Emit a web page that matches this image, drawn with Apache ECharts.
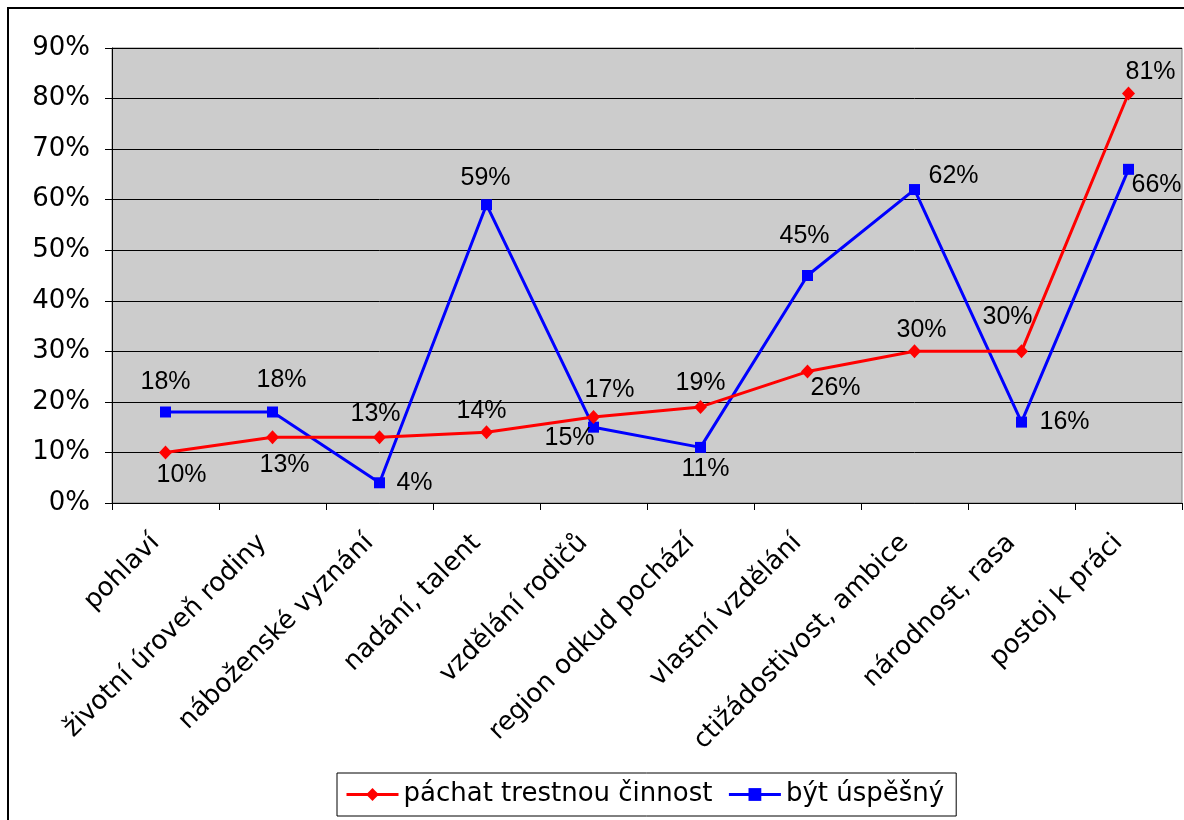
<!DOCTYPE html>
<html>
<head>
<meta charset="utf-8">
<script src="https://cdn.jsdelivr.net/npm/echarts@6/dist/echarts.min.js"></script>
<style>
html,body{margin:0;padding:0;background:#fff;}
#chart{width:1184px;height:820px;}
</style>
</head>
<body>
<div id="chart"></div>
<script>
const categories = ["pohlaví","životní úroveň rodiny","náboženské vyznání","nadání, talent","vzdělání rodičů","region odkud pochází","vlastní vzdělání","ctižádostivost, ambice","národnost, rasa","postoj k práci"];
const seriesNames = ["páchat trestnou činnost","být úspěšný"];
const crimeValues = [10,13,13,14,17,19,26,30,30,81];
const successValues = [18,18,4,59,15,11,45,62,16,66];
const yTicks = {min:0, max:90, interval:10};

// label placement (layout only)
const crimeLabelOffsets = [[16,23],[12,28],[-4,-23],[-5,-21],[16,-27],[0,-24],[28,17],[7,-21],[-14,-34],[22,-21]];
const successLabelOffsets = [[0,-30],[9,-32],[35,0],[-1,-27],[-24,11],[5,22],[-3,-39],[39,-13],[43,0],[28,16]];

function build(values, offs){
  return values.map((v,i)=>({value:v, label:{offset:offs[i]}}));
}

const chart = echarts.init(document.getElementById('chart'), null, {renderer:'canvas'});
const labelStyle = {show:true, position:'inside', formatter:'{c}%', color:'#000', fontFamily:'Liberation Sans', fontSize:25, align:'center', verticalAlign:'middle'};
chart.setOption({
  backgroundColor:'#fff',
  animation:false,
  graphic:[{type:'rect', shape:{x:8,y:8,width:1200,height:900}, style:{fill:'none', stroke:'#000', lineWidth:2}, z:-1}],
  grid:{left:112, right:2, top:48, bottom:317, show:true, backgroundColor:'#CCCCCC', borderColor:'#808080', borderWidth:1, containLabel:false, outerBoundsMode:'none'},
  legend:{
    left:337, top:773, orient:'horizontal',
    data:seriesNames,
    itemWidth:52, itemHeight:16, itemGap:15,
    padding:[8,12,8,8],
    borderColor:'#000', borderWidth:1,
    lineStyle:{width:3},
    textStyle:{fontFamily:'DejaVu Sans', fontSize:26, color:'#000', lineHeight:27}
  },
  xAxis:{
    type:'category', data:categories, boundaryGap:true,
    axisLine:{show:true, lineStyle:{color:'#000', width:1}},
    axisTick:{show:true, alignWithLabel:false, length:7, lineStyle:{color:'#000'}},
    axisLabel:{rotate:45, interval:0, margin:26, padding:[0,14,0,0], color:'#000', fontFamily:'DejaVu Sans', fontSize:26},
    splitLine:{show:false}
  },
  yAxis:{
    type:'value', min:yTicks.min, max:yTicks.max, interval:yTicks.interval,
    axisLine:{show:true, lineStyle:{color:'#000', width:1}},
    axisTick:{show:true, length:7, lineStyle:{color:'#000'}},
    axisLabel:{formatter:'{value}%', margin:22, color:'#000', fontFamily:'DejaVu Sans', fontSize:26},
    splitLine:{show:true, lineStyle:{color:'#000', width:1}}
  },
  series:[
    {name:seriesNames[0], type:'line', data:build(crimeValues, crimeLabelOffsets),
     symbol:'diamond', symbolSize:[13,14], color:'#FF0000',
     lineStyle:{color:'#FF0000', width:3}, itemStyle:{color:'#FF0000'},
     label:labelStyle, z:3},
    {name:seriesNames[1], type:'line', data:build(successValues, successLabelOffsets),
     symbol:'rect', symbolSize:11, color:'#0000FF',
     lineStyle:{color:'#0000FF', width:3}, itemStyle:{color:'#0000FF'},
     label:labelStyle, z:2}
  ]
});
</script>
</body>
</html>
